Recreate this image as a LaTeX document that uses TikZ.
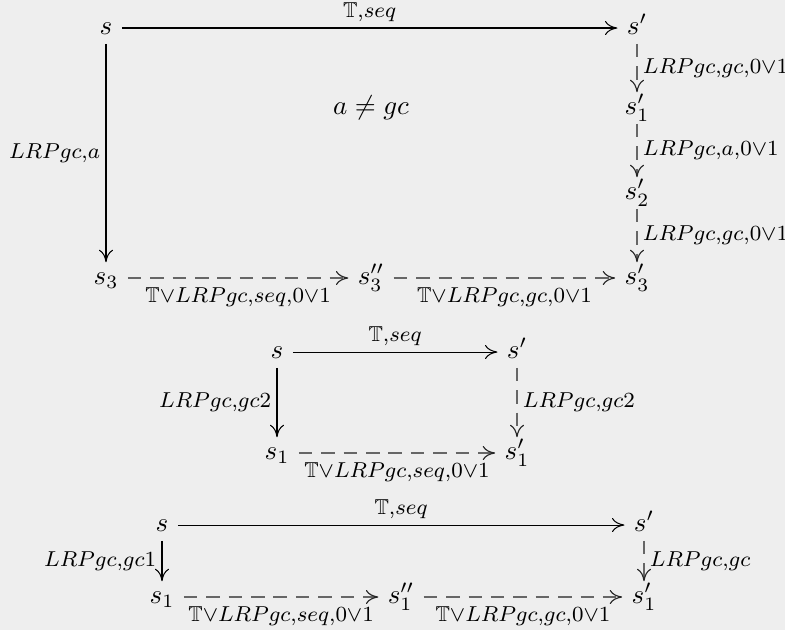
\documentclass[tikz,border=0pt]{standalone}
\usepackage{amssymb}
\usetikzlibrary{arrows.meta}
\definecolor{bgc}{RGB}{238,238,238}
\begin{document}
\begin{tikzpicture}[x=0.37037pt,y=-0.37037pt,
  obj/.style={inner xsep=3.3pt, inner ysep=2pt, text height=6pt, text depth=1.3pt},
  lab/.style={font=\fontsize{8}{9.6}\selectfont, inner sep=2pt},
  blab/.style={lab, below, inner ysep=3.5pt},
  arr/.style={draw, line width=0.38pt, -{Computer Modern Rightarrow[length=4.6pt,width=5.2pt]}},
  darr/.style={draw=black!60, line width=0.42pt, dash pattern=on 5pt off 3.3pt,
    -{Computer Modern Rightarrow[length=4.6pt,width=5.2pt,color=black!85]}}]
\fill[bgc] (0,0) rectangle (785,630);
\useasboundingbox (0,0) rectangle (785,630);
% Diagram 1
\node[obj] (a1) at (106,28) {$s$};
\node[obj] (a2) at (637,28) {$s'$};
\node[obj] (a3) at (637,108) {$s'_1$};
\node[obj] (a4) at (637,193) {$s'_2$};
\node[obj] (a5) at (637,278) {$s'_3$};
\node[obj] (a6) at (106,278) {$s_3$};
\node[obj] (a7) at (371,278) {$s''_3$};
\node (ne) at (371,108) {$a \neq gc$};
\draw[arr] (a1) -- node[lab,above] {$\mathbb{T}{,}seq$} (a2);
\draw[arr] (a1) -- node[lab,left] {$LRPgc{,}a$} (a6);
\draw[darr] (a2) -- node[lab,right] {$LRPgc{,}gc{,}0{\vee}1$} (a3);
\draw[darr] (a3) -- node[lab,right] {$LRPgc{,}a{,}0{\vee}1$} (a4);
\draw[darr] (a4) -- node[lab,right] {$LRPgc{,}gc{,}0{\vee}1$} (a5);
\draw[darr] (a6) -- node[blab] {$\mathbb{T}{\vee}LRPgc{,}seq{,}0{\vee}1$} (a7);
\draw[darr] (a7) -- node[blab] {$\mathbb{T}{\vee}LRPgc{,}gc{,}0{\vee}1$} (a5);
% Diagram 2
\node[obj] (b1) at (277,352) {$s$};
\node[obj] (b2) at (517,352) {$s'$};
\node[obj] (b3) at (277,453) {$s_1$};
\node[obj] (b4) at (517,453) {$s'_1$};
\draw[arr] (b1) -- node[lab,above] {$\mathbb{T}{,}seq$} (b2);
\draw[arr] (b1) -- node[lab,left] {$LRPgc{,}gc2$} (b3);
\draw[darr] (b2) -- node[lab,right] {$LRPgc{,}gc2$} (b4);
\draw[darr] (b3) -- node[blab] {$\mathbb{T}{\vee}LRPgc{,}seq{,}0{\vee}1$} (b4);
% Diagram 3
\node[obj] (c1) at (162,525) {$s$};
\node[obj] (c2) at (644,525) {$s'$};
\node[obj] (c3) at (162,597) {$s_1$};
\node[obj] (c4) at (401,597) {$s''_1$};
\node[obj] (c5) at (644,597) {$s'_1$};
\draw[arr] (c1) -- node[lab,above] {$\mathbb{T}{,}seq$} (c2);
\draw[arr] (c1) -- node[lab,left] {$LRPgc{,}gc1$} (c3);
\draw[darr] (c2) -- node[lab,right] {$LRPgc{,}gc$} (c5);
\draw[darr] (c3) -- node[blab] {$\mathbb{T}{\vee}LRPgc{,}seq{,}0{\vee}1$} (c4);
\draw[darr] (c4) -- node[blab] {$\mathbb{T}{\vee}LRPgc{,}gc{,}0{\vee}1$} (c5);
\end{tikzpicture}
\end{document}
